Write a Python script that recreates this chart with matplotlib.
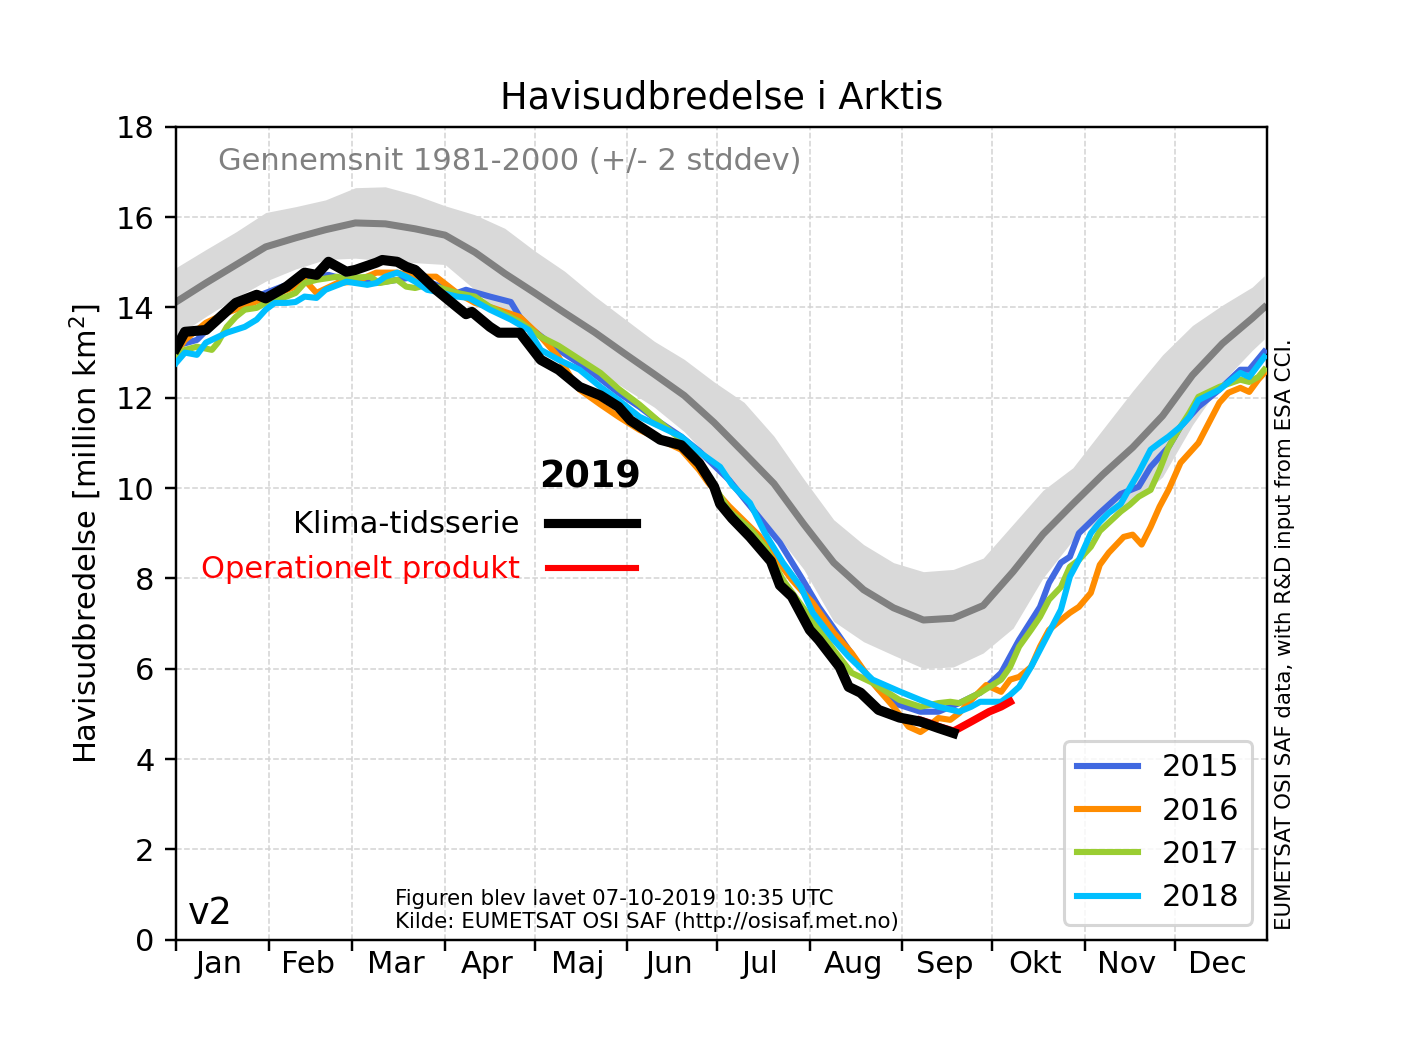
import matplotlib
matplotlib.use("Agg")
import matplotlib.pyplot as plt
from matplotlib.lines import Line2D

# day-of-year grid for the 1981-2000 climatology
CLIM_DAYS = [1, 11, 21, 31, 41, 51, 61, 71, 81, 91, 101, 111, 121, 131, 141, 151, 161, 171,
             181, 191, 201, 211, 221, 231, 241, 251, 261, 271, 281, 291, 301, 311, 321, 331,
             341, 351, 361, 365]
CLIM_MEAN = [14.12, 14.54, 14.94, 15.34, 15.54, 15.72, 15.87, 15.85, 15.74, 15.6, 15.22, 14.75,
             14.32, 13.88, 13.45, 12.98, 12.52, 12.05, 11.45, 10.78, 10.1, 9.2, 8.35, 7.75,
             7.35, 7.08, 7.12, 7.4, 8.15, 8.98, 9.65, 10.3, 10.9, 11.6, 12.5, 13.2, 13.76, 14.0]
CLIM_UPPER = [14.88, 15.28, 15.67, 16.1, 16.23, 16.38, 16.65, 16.67, 16.49, 16.25, 16.05, 15.75,
              15.25, 14.8, 14.25, 13.75, 13.25, 12.85, 12.35, 11.9, 11.15, 10.2, 9.3, 8.75,
              8.35, 8.15, 8.2, 8.45, 9.2, 9.95, 10.45, 11.3, 12.15, 12.95, 13.6, 14.05, 14.45, 14.7]
CLIM_LOWER = [13.36, 13.8, 14.21, 14.58, 14.85, 15.06, 15.09, 15.03, 14.99, 14.95, 14.39, 13.75,
              13.39, 12.96, 12.65, 12.21, 11.79, 11.25, 10.55, 9.66, 9.05, 8.2, 7.05, 6.6,
              6.3, 6.01, 6.04, 6.35, 6.9, 8.01, 8.85, 9.35, 9.65, 10.25, 11.4, 12.35, 13.05, 13.3]

DAYS_2015 = [1, 8, 18, 31, 38, 41, 48, 52, 58, 68, 75, 81, 88, 95, 98, 106, 113, 116, 119, 129,
             139, 149, 156, 163, 170, 176, 186, 196, 203, 210, 216, 223, 230, 236, 243, 250, 256,
             263, 270, 277, 283, 290, 293, 297, 300, 303, 310, 317, 323, 327, 333, 337, 343, 350,
             357, 360, 365]
EXT_2015 = [13.15, 13.28, 13.95, 14.32, 14.5, 14.61, 14.66, 14.72, 14.61, 14.54, 14.61, 14.68,
            14.5, 14.32, 14.39, 14.24, 14.12, 13.79, 13.57, 13.06, 12.62, 12.11, 11.8, 11.45,
            11.14, 10.82, 10.18, 9.36, 8.79, 8.04, 7.37, 6.71, 6.04, 5.55, 5.2, 5.05, 5.05, 5.24,
            5.47, 5.91, 6.64, 7.37, 7.9, 8.35, 8.48, 9.0, 9.45, 9.87, 10.03, 10.47, 10.91, 11.36,
            11.8, 12.18, 12.62, 12.62, 13.02]

DAYS_2016 = [1, 4, 11, 18, 31, 41, 44, 48, 55, 61, 68, 75, 81, 88, 95, 101, 106, 116, 123, 129,
             133, 136, 143, 149, 156, 163, 170, 176, 179, 186, 196, 207, 214, 221, 227, 234, 241,
             246, 250, 252, 256, 260, 263, 267, 272, 277, 280, 283, 287, 290, 293, 297, 300, 303,
             307, 310, 313, 318, 321, 324, 327, 330, 333, 337, 340, 343, 347, 350, 353, 357, 360,
             363, 365]
EXT_2016 = [13.0, 13.28, 13.66, 13.88, 14.21, 14.46, 14.61, 14.32, 14.54, 14.57, 14.77, 14.77,
            14.68, 14.68, 14.32, 14.1, 14.01, 13.79, 13.35, 12.9, 12.46, 12.18, 11.85, 11.58,
            11.29, 11.07, 10.85, 10.4, 10.12, 9.6, 8.95, 7.97, 7.46, 6.8, 6.35, 5.69, 5.16, 4.72,
            4.6, 4.69, 4.91, 4.87, 5.02, 5.31, 5.64, 5.49, 5.76, 5.82, 6.04, 6.49, 6.86, 7.08,
            7.24, 7.37, 7.68, 8.3, 8.57, 8.92, 8.97, 8.75, 9.14, 9.59, 9.96, 10.56, 10.78, 11.0,
            11.51, 11.89, 12.11, 12.22, 12.13, 12.4, 12.55]

DAYS_2017 = [1, 4, 8, 13, 15, 18, 21, 24, 28, 31, 38, 41, 44, 48, 55, 58, 61, 66, 69, 75, 78, 81,
             85, 88, 95, 101, 106, 116, 123, 129, 136, 143, 149, 156, 163, 170, 176, 186, 193,
             198, 204, 212, 221, 227, 234, 243, 250, 256, 260, 263, 270, 277, 280, 283, 287, 290,
             293, 297, 300, 303, 307, 310, 317, 320, 323, 327, 330, 333, 337, 340, 343, 350, 357,
             360, 363, 365]
EXT_2017 = [12.9, 13.06, 13.13, 13.06, 13.22, 13.57, 13.79, 13.95, 13.99, 14.1, 14.24, 14.32,
            14.54, 14.61, 14.68, 14.61, 14.66, 14.68, 14.54, 14.61, 14.46, 14.43, 14.5, 14.46,
            14.32, 14.24, 14.01, 13.68, 13.35, 13.15, 12.85, 12.55, 12.2, 11.85, 11.45, 11.07,
            10.6, 9.5, 9.1, 8.7, 7.97, 7.24, 6.42, 5.91, 5.69, 5.31, 5.16, 5.24, 5.27, 5.24, 5.47,
            5.76, 6.04, 6.49, 6.86, 7.15, 7.53, 7.81, 8.26, 8.41, 8.7, 9.05, 9.48, 9.63, 9.81,
            9.96, 10.4, 10.91, 11.36, 11.67, 12.02, 12.24, 12.4, 12.35, 12.46, 12.62]

DAYS_2018 = [1, 4, 8, 11, 18, 24, 28, 31, 34, 38, 41, 44, 48, 51, 58, 65, 68, 71, 75, 78, 81, 85,
             88, 95, 99, 106, 113, 119, 123, 129, 136, 143, 149, 156, 163, 170, 176, 183, 187,
             193, 198, 204, 210, 214, 221, 226, 234, 243, 250, 256, 263, 267, 270, 277, 280, 283,
             287, 290, 293, 297, 300, 303, 307, 310, 313, 317, 320, 323, 327, 330, 333, 337, 340,
             343, 350, 357, 360, 365]
EXT_2018 = [12.77, 13.0, 12.95, 13.22, 13.44, 13.57, 13.73, 13.95, 14.1, 14.1, 14.12, 14.24,
            14.21, 14.39, 14.57, 14.5, 14.54, 14.68, 14.77, 14.68, 14.57, 14.39, 14.35, 14.24,
            14.21, 13.95, 13.73, 13.5, 13.06, 12.84, 12.62, 12.24, 11.95, 11.58, 11.36, 11.14,
            10.8, 10.47, 10.07, 9.67, 9.0, 8.35, 7.81, 7.24, 6.64, 6.27, 5.76, 5.5, 5.31, 5.16,
            5.05, 5.16, 5.27, 5.27, 5.42, 5.6, 6.04, 6.42, 6.8, 7.31, 8.04, 8.41, 9.0, 9.25, 9.45,
            9.65, 10.0, 10.34, 10.85, 11.0, 11.14, 11.36, 11.58, 11.95, 12.18, 12.55, 12.46, 12.9]

# 2019: climate data record (black) and operational product (red)
DAYS_2019 = [1, 4, 11, 21, 28, 31, 38, 44, 48, 52, 58, 61, 68, 70, 75, 78, 81, 88, 95, 98, 100,
             106, 109, 116, 123, 129, 136, 143, 149, 153, 163, 170, 176, 181, 183, 187, 193, 200,
             203, 207, 213, 216, 223, 226, 230, 236, 243, 250, 253, 256, 261]
EXT_2019 = [13.1, 13.46, 13.5, 14.1, 14.28, 14.2, 14.46, 14.77, 14.72, 15.01, 14.79, 14.83, 14.99,
            15.05, 15.01, 14.9, 14.83, 14.39, 14.01, 13.85, 13.9, 13.57, 13.44, 13.44, 12.84,
            12.62, 12.24, 12.05, 11.8, 11.5, 11.07, 10.95, 10.55, 10.03, 9.65, 9.33, 8.92, 8.38,
            7.85, 7.6, 6.86, 6.64, 6.04, 5.6, 5.47, 5.09, 4.92, 4.83, 4.76, 4.69, 4.58]
OP_DAYS_2019 = [250, 253, 256, 261, 262, 267, 270, 273, 277, 280]
OP_EXT_2019 = [4.86, 4.8, 4.72, 4.62, 4.65, 4.83, 4.94, 5.05, 5.16, 5.27]

MONTH_STARTS = [1, 32, 60, 91, 121, 152, 182, 213, 244, 274, 305, 335, 366]
MONTHS = ["Jan", "Feb", "Mar", "Apr", "Maj", "Jun", "Jul", "Aug", "Sep", "Okt", "Nov", "Dec"]

YEARS = [("2015", DAYS_2015, EXT_2015, "royalblue"),
         ("2016", DAYS_2016, EXT_2016, "darkorange"),
         ("2017", DAYS_2017, EXT_2017, "yellowgreen"),
         ("2018", DAYS_2018, EXT_2018, "deepskyblue")]

fig = plt.figure(figsize=(6.4, 4.8), dpi=220)
ax = fig.add_subplot(111)

ax.fill_between(CLIM_DAYS, CLIM_LOWER, CLIM_UPPER, color="#d9d9d9", linewidth=0, zorder=1)
ax.plot(CLIM_DAYS, CLIM_MEAN, color="gray", linewidth=2.3, zorder=2)

handles = []
for label, days, ext, col in YEARS:
    ax.plot(days, ext, color=col, linewidth=2.0, zorder=3)
    handles.append(Line2D([], [], color=col, linewidth=2.0, label=label))

ax.plot(OP_DAYS_2019, OP_EXT_2019, color="red", linewidth=2.5, zorder=4)
ax.plot(DAYS_2019, EXT_2019, color="black", linewidth=3.3, zorder=5)

ax.set_xlim(1, 366)
ax.set_ylim(0, 18)
ax.set_yticks(range(0, 19, 2))
ax.set_xticks(MONTH_STARTS[:-1])
ax.set_xticklabels([])
mids = [(a + b) / 2 - 1 for a, b in zip(MONTH_STARTS[:-1], MONTH_STARTS[1:])]
ax.set_xticks(mids, minor=True)
ax.set_xticklabels(MONTHS, minor=True)
ax.tick_params(axis="x", which="minor", length=0)
ax.grid(True, which="major", linestyle="--", color="#d3d3d3", linewidth=0.5)
ax.set_axisbelow(True)

ax.set_title("Havisudbredelse i Arktis", fontsize=12)
ax.set_ylabel("Havisudbredelse [million km$^2$]")

ax.text(0.0385, 0.947, "Gennemsnit 1981-2000 (+/- 2 stddev)", color="gray", fontsize=10,
        transform=ax.transAxes, va="baseline")
ax.text(0.011, 0.02, "v2", fontsize=12, transform=ax.transAxes, va="baseline")
ax.text(0.2007, 0.01, "Figuren blev lavet 07-10-2019 10:35 UTC\nKilde: EUMETSAT OSI SAF (http://osisaf.met.no)",
        fontsize=7, transform=ax.transAxes, va="bottom")

# custom 2019 legend
ax.text(0.379, 0.556, "2019", fontsize=12, fontweight="bold", ha="center", va="baseline",
        transform=ax.transAxes)
ax.text(0.315, 0.5006, "Klima-tidsserie", fontsize=10, ha="right", va="baseline",
        transform=ax.transAxes)
ax.text(0.315, 0.445, "Operationelt produkt", fontsize=10, color="red", ha="right",
        va="baseline", transform=ax.transAxes)
ax.plot([0.341, 0.422], [0.513, 0.513], color="black", linewidth=3, transform=ax.transAxes)
ax.plot([0.341, 0.422], [0.4576, 0.4576], color="red", linewidth=2, transform=ax.transAxes)

ax.legend(handles=handles, loc="lower right", fontsize=10, labelspacing=0.47)

fig.text(0.9126, 0.119, "EUMETSAT OSI SAF data, with R&D input from ESA CCI.", fontsize=7,
         rotation=90, ha="center", va="bottom")

fig.savefig("out.png", dpi=220)
